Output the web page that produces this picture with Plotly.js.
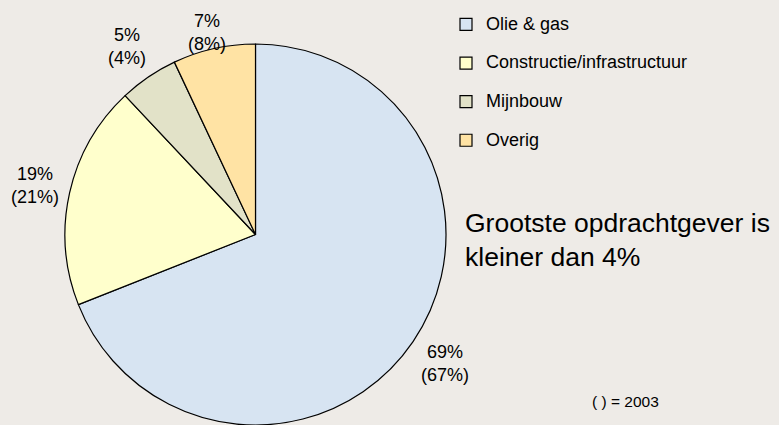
<!DOCTYPE html>
<html>
<head>
<meta charset="utf-8">
<script src="https://cdn.plot.ly/plotly-3.0.1.min.js"></script>
<style>html,body{margin:0;padding:0;background:#eeebe7;}#chart{width:779px;height:425px;}</style>
</head>
<body>
<div id="chart"></div>
<script>
var categories = ["Olie & gas", "Constructie/infrastructuur", "Mijnbouw", "Overig"];
var share2007 = [69, 19, 5, 7];
var share2003 = [67, 21, 4, 8];
var colors = ["#d7e4f2", "#ffffcc", "#e2e2c8", "#ffe3a4"];

var W = 779, H = 425;
// pie domain in pixels
var pieLeft = 64, pieRight = 447, pieTop = 44, pieBottom = 425;
var cx = (pieLeft + pieRight) / 2, cy = (pieTop + pieBottom) / 2;
var radius = Math.min(pieRight - pieLeft, pieBottom - pieTop) / 2;

var legendLabels = categories.map(function (c) {
  return "<span style='font-size:18px'>" + c + "</span><br> ";
});
var sliceText = share2007.map(function (v, i) {
  return v + "%<br>(" + share2003[i] + "%)";
});

var trace = {
  type: "pie",
  labels: legendLabels,
  values: share2007,
  textinfo: "none",
  sort: false,
  direction: "clockwise",
  rotation: 0,
  marker: {colors: colors, line: {color: "#000", width: 1.2}},
  domain: {x: [pieLeft / W, pieRight / W], y: [1 - pieBottom / H, 1 - pieTop / H]},
  hoverinfo: "none",
  automargin: false
};

// slice labels placed just outside each slice, at its mid-angle, kept inside the chart
var total = share2007.reduce(function (a, b) { return a + b; }, 0);
var labelFont = 18;
var halfW = 22, halfH = 18, gap = 10, edge = 14;
var labelAnns = [];
var cum = 0;
share2007.forEach(function (v, i) {
  var mid = (cum + v / 2) / total * 2 * Math.PI;
  cum += v;
  var s = Math.sin(mid), c = Math.cos(mid);
  var d = radius + gap + halfW * Math.abs(s) + halfH * Math.abs(c);
  var px = cx + d * s, py = Math.max(cy - d * c, edge + halfH);
  labelAnns.push({
    x: px / W, y: 1 - py / H, xref: "paper", yref: "paper",
    xanchor: "center", yanchor: "middle", align: "center",
    text: sliceText[i], showarrow: false,
    font: {size: labelFont, color: "#000"}
  });
});

var layout = {
  width: W,
  height: H,
  margin: {l: 0, r: 0, t: 0, b: 0},
  paper_bgcolor: "#eeebe7",
  plot_bgcolor: "#eeebe7",
  font: {family: "Liberation Sans, Arial, sans-serif", size: 13, color: "#000"},
  showlegend: true,
  legend: {
    x: 446 / W, y: 1 - 9 / H, xanchor: "left", yanchor: "top",
    valign: "top",
    bgcolor: "rgba(0,0,0,0)",
    font: {size: 13.7, color: "#000"},
    itemwidth: 30
  },
  annotations: labelAnns.concat([
    {x: 463 / W, y: 1 - 240 / H, xref: "paper", yref: "paper", xanchor: "left", yanchor: "middle",
     text: "Grootste opdrachtgever is<br>kleiner dan 4%", showarrow: false, align: "left",
     font: {size: 26.5, color: "#000"}},
    {x: 590 / W, y: 1 - 401 / H, xref: "paper", yref: "paper", xanchor: "left", yanchor: "middle",
     text: "( ) = 2003", showarrow: false, font: {size: 15.5, color: "#000"}}
  ])
};

Plotly.newPlot("chart", [trace], layout, {displayModeBar: false, staticPlot: true});
</script>
</body>
</html>
